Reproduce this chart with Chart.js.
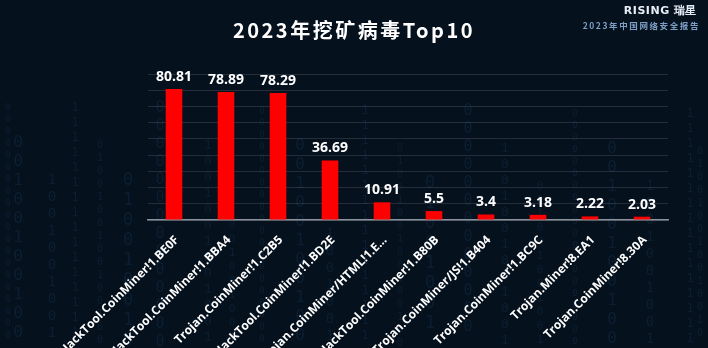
<!DOCTYPE html>
<html>
<head>
<meta charset="utf-8">
<script src="https://cdn.jsdelivr.net/npm/chart.js@4.4.1/dist/chart.umd.min.js"></script>
<style>
	html, body { margin: 0; padding: 0; background: #06111e; }
	#wrap { position: relative; width: 708px; height: 348px; overflow: hidden; background: #06111e; }
	#chart { position: absolute; left: 0; top: 0; }
	.title {
		position: absolute; left: 0; width: 708px; top: 15px; text-align: center;
		color: #fff; font: bold 20px "Noto Sans CJK SC", "Noto Sans", sans-serif; letter-spacing: 2.5px;
	}
	.logo {
		position: absolute; right: 11px; top: 3px; color: #e8eef5;
		font: bold 11px "DejaVu Sans", sans-serif; letter-spacing: 0.5px;
	}
	.sub {
		position: absolute; right: 8px; top: 19px; color: #7d9fc6;
		font: bold 8.5px "Noto Sans CJK SC", sans-serif; letter-spacing: 1.6px;
	}
</style>
</head>
<body>
<div id="wrap">
	<canvas id="chart" width="708" height="348"></canvas>
	<div class="title">2023年挖矿病毒Top10</div>
	<div class="logo">RISING 瑞星</div>
	<div class="sub">2023年中国网络安全报告</div>
</div>
<script type="text/javascript">
	let names = [
		"HackTool.CoinMiner!1.BE0F",
		"HackTool.CoinMiner!1.BBA4",
		"Trojan.CoinMiner!1.C2B5",
		"HackTool.CoinMiner!1.BD2E",
		"Trojan.CoinMiner/HTML!1.E...",
		"HackTool.CoinMiner!1.B80B",
		"Trojan.CoinMiner/JS!1.B404",
		"Trojan.CoinMiner!1.BC9C",
		"Trojan.Miner!8.EA1",
		"Trojan.CoinMiner!8.30A",
	]
	let counts = [80.81, 78.89, 78.29, 36.69, 10.91, 5.5, 3.4, 3.18, 2.22, 2.03]

	// faint "digital rain" behind the chart
	let rain = function(ctx) {
		let cols = [8, 18, 52, 75, 100, 128, 160, 208, 232, 262, 300, 330, 365, 400, 430, 468, 505, 540, 575, 612, 650, 690, 700]
		ctx.save()
		ctx.fillStyle = "rgba(40, 95, 140, 0.18)"
		ctx.textAlign = "center"
		cols.forEach(function(x, i) {
			let size = 9 + (i * 7) % 9
			ctx.font = size + "px 'DejaVu Sans Mono', monospace"
			let start = 110 + (i * 37) % 110
			for(let y = start; y < 348; y += size + 3) {
				ctx.fillText(((i + y) % 3) ? "0" : "1", x, y)
			}
		})
		ctx.restore()
		return
	}

	let valueLabels = {
		id: "valueLabels",
		beforeDraw: function(chart) {
			let ctx = chart.ctx
			ctx.save()
			ctx.fillStyle = "#06111e"
			ctx.fillRect(0, 0, chart.width, chart.height)
			ctx.restore()
			rain(ctx)
		},
		afterDatasetsDraw: function(chart) {
			let ctx = chart.ctx
			let meta = chart.getDatasetMeta(0)
			ctx.save()
			ctx.fillStyle = "#ffffff"
			ctx.font = "bold 14px 'Open Sans', sans-serif"
			ctx.textAlign = "center"
			ctx.textBaseline = "bottom"
			meta.data.forEach(function(bar, i) {
				ctx.fillText(String(counts[i]), bar.x, bar.y - 5)
			})
			ctx.restore()
		},
	}

	let chart = new Chart(document.querySelector("#chart"), {
		type: "bar",
		data: {
			labels: names,
			datasets: [{
				data: counts,
				backgroundColor: "#ff0000",
				barPercentage: 0.32,
				categoryPercentage: 1,
			}],
		},
		options: {
			responsive: false,
			animation: false,
			layout: {
				padding: { left: 148, right: 40, top: 74, bottom: 0 },
			},
			plugins: {
				legend: { display: false },
				tooltip: { enabled: false },
			},
			scales: {
				x: {
					grid: { display: false },
					border: { color: "#8a939c", width: 1.5 },
					ticks: {
						color: "#ffffff",
						font: { family: "'Open Sans', sans-serif", size: 12, weight: "bold" },
						minRotation: 45,
						maxRotation: 45,
						autoSkip: false,
						padding: 5,
						labelOffset: 3,
					},
					afterFit: function(scale) {
						scale.height = 128
						scale.paddingLeft = 0
						scale.paddingRight = 0
					},
				},
				y: {
					min: 0,
					max: 90,
					ticks: { display: false, stepSize: 10 },
					grid: { color: "rgba(255,255,255,0.12)", drawTicks: false },
					border: { display: false },
					afterFit: function(scale) {
						scale.width = 0
					},
				},
			},
		},
		plugins: [valueLabels],
	})
</script>
</body>
</html>
